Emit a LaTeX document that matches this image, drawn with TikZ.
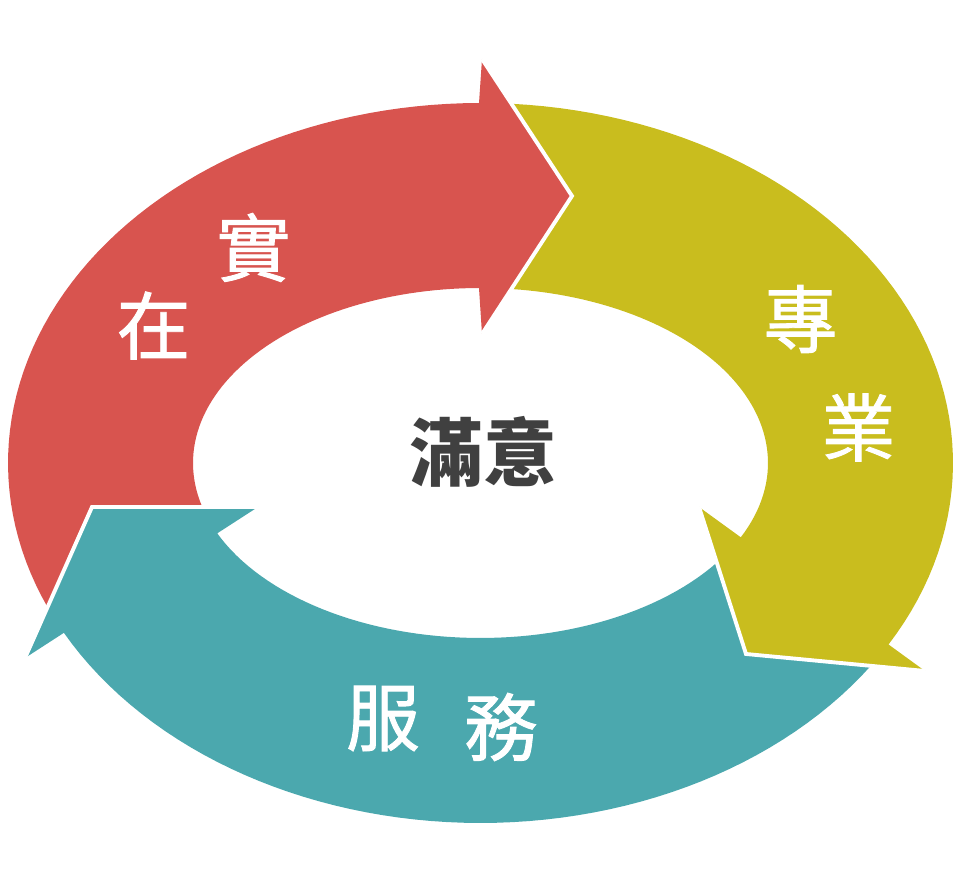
\documentclass[tikz,border=0pt]{standalone}
\usepackage{fontspec}
\newfontfamily\cjk{Noto Sans CJK TC}
\newfontfamily\cjkdam[FakeBold=1.2]{Noto Sans CJK TC}
\definecolor{mauDo}{HTML}{D8544F}
\definecolor{mauVang}{HTML}{C9BD1E}
\definecolor{mauXanh}{HTML}{4BA8AE}
\definecolor{chuXam}{HTML}{404040}
\begin{document}
\begin{tikzpicture}[x=0.01cm, y=-0.01cm, line join=miter,
	vien/.style={draw=white, line width=1.1pt},
	chu/.style={text=white, font=\cjkdam\fontsize{21}{21}\selectfont}]
	\useasboundingbox (0,0) rectangle (960,874);
	
	% Định nghĩa tọa độ các điểm (mũi tên: ngạnh - đỉnh - ngạnh)
	\coordinate (A1) at (482,59);
	\coordinate (A) at (572,196);
	\coordinate (A2) at (482,334);
	\coordinate (B1) at (699,507);
	\coordinate (B) at (746,654);
	\coordinate (B2) at (925,671);
	\coordinate (C1) at (258,507);
	\coordinate (C) at (92,507);
	\coordinate (C2) at (25,658);
	
	% Mũi tên đỏ
	\fill[mauDo] plot[domain=156.4:269.82, samples=60] ({480.5+472.5*cos(\x)}, {463+360*sin(\x)})
		-- (A1) -- (A) -- (A2)
		-- plot[domain=269.7:165.44, samples=60] ({480.5+287.5*cos(\x)}, {463+175*sin(\x)})
		-- (C) -- cycle;
	
	% Mũi tên vàng
	\fill[mauVang] plot[domain=273.75:390.28, samples=60] ({480.5+472.5*cos(\x)}, {463+360*sin(\x)})
		-- (B2) -- (B) -- (B1)
		-- plot[domain=385.13:276.15, samples=60] ({480.5+287.5*cos(\x)}, {463+175*sin(\x)})
		-- (A) -- cycle;
	
	% Mũi tên xanh
	\fill[mauXanh] plot[domain=34.3:151.85, samples=60] ({480.5+472.5*cos(\x)}, {463+360*sin(\x)})
		-- (C2) -- (C) -- (C1)
		-- plot[domain=156.3:34.7, samples=60] ({480.5+287.5*cos(\x)}, {463+175*sin(\x)})
		-- (B) -- cycle;
	
	% Khe trắng giữa các mũi tên
	\foreach \u/\v/\w in {A1/A/A2, B1/B/B2, C1/C/C2} {
		\draw[vien] (\u) -- (\v) -- (\w);
	}
	
	% Gán nhãn
	\foreach \p/\t/\ten in {{153.5,325.5}/在/zai, {253.5,247.5}/實/shi, {800.5,319}/專/zhuan,
		{858.5,427.5}/業/ye, {383,718.5}/服/fu, {501,727}/務/wu} {
		\node[chu] (\ten) at (\p) {\t};
	}
	
	% Chữ ở giữa
	\node[text=chuXam, font=\cjk\bfseries\fontsize{21}{21}\selectfont] (manyi) at (483.5,452) {滿意};
\end{tikzpicture}
\end{document}
